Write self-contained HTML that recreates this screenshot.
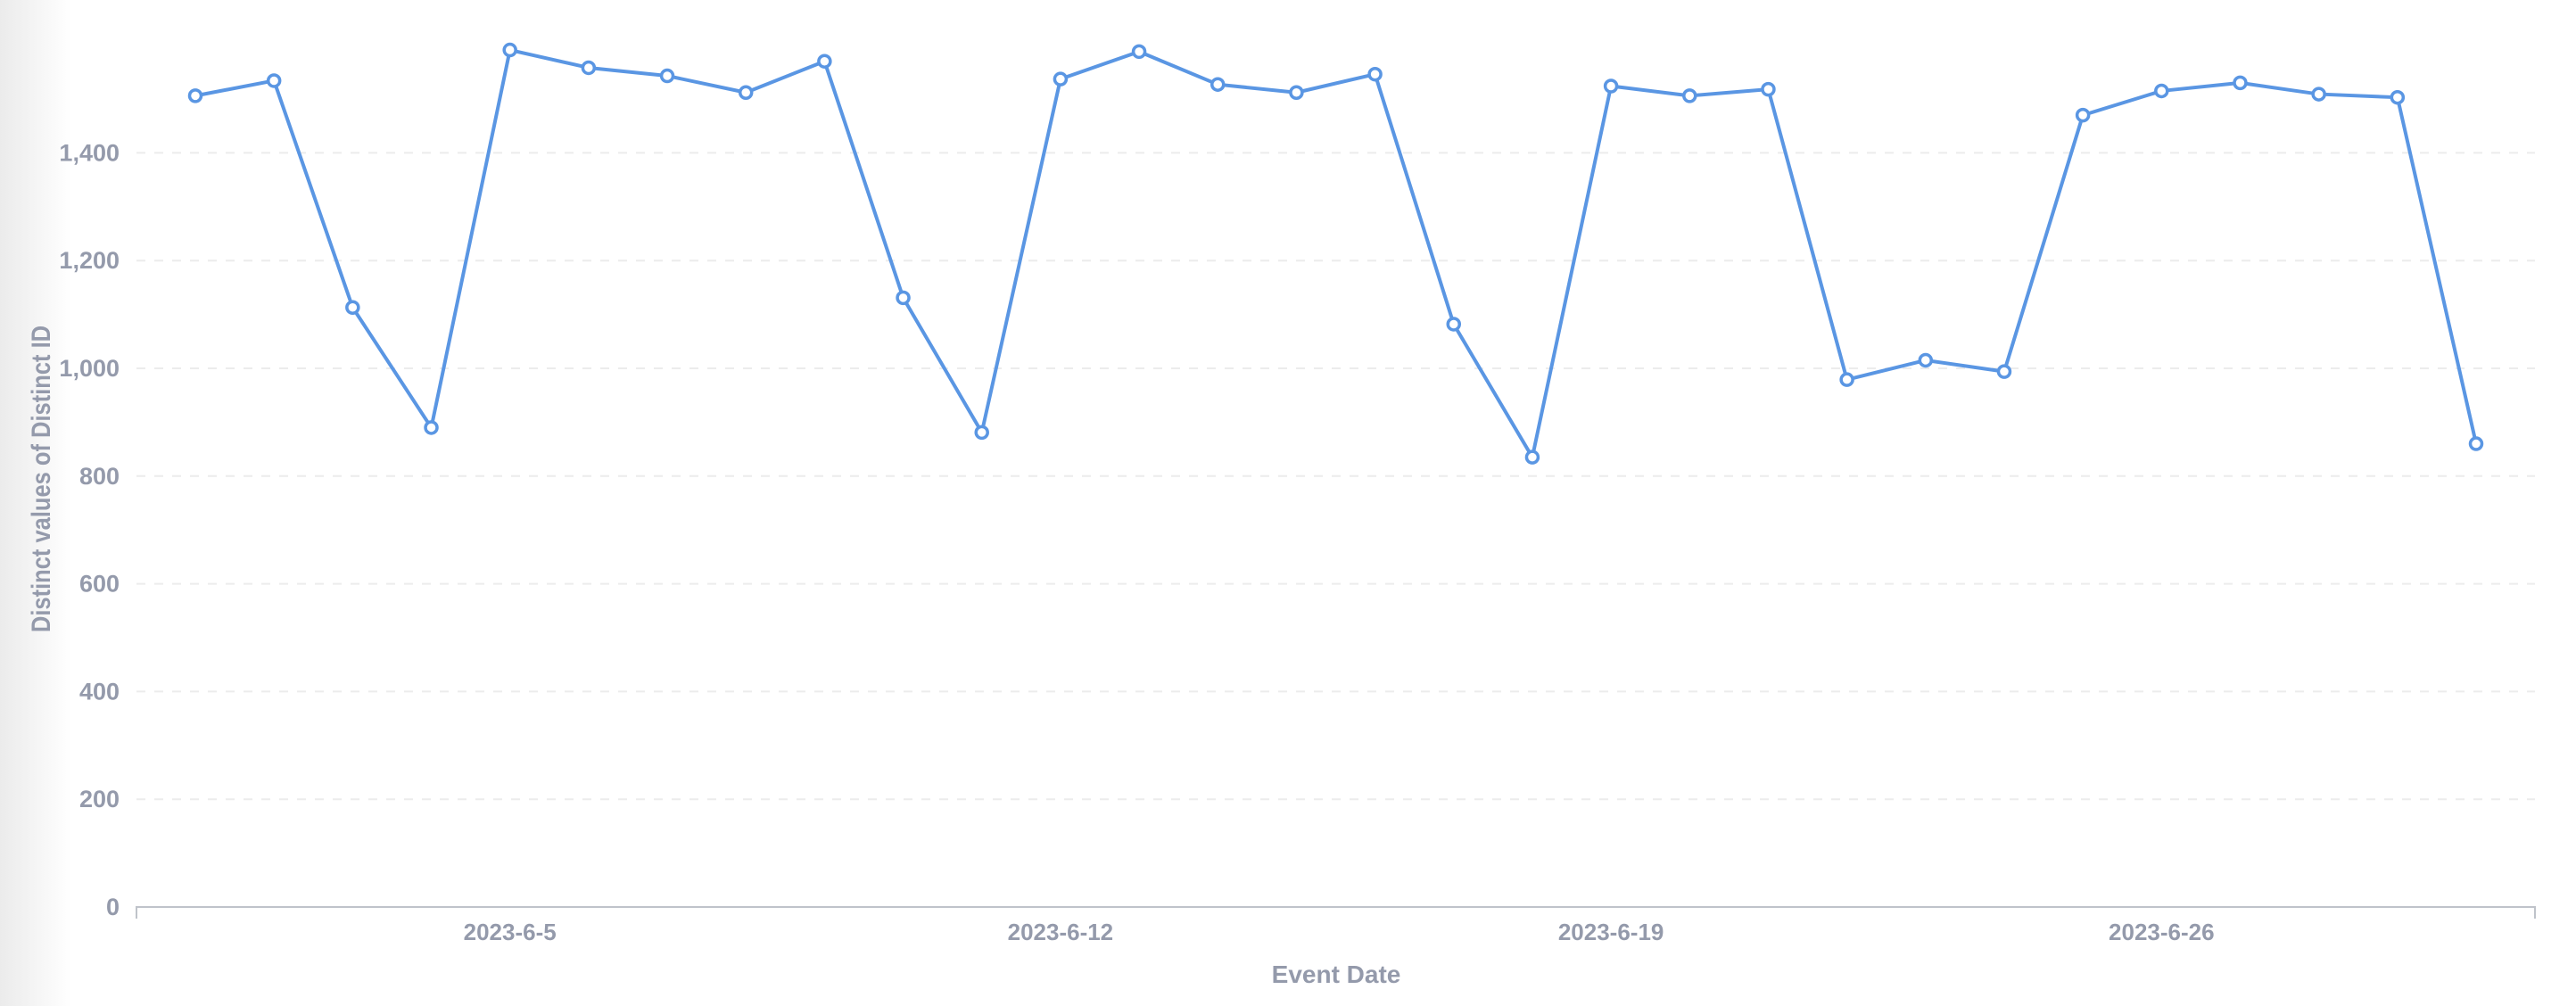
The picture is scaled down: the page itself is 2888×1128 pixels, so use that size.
<!DOCTYPE html>
<html><head><meta charset="utf-8"><style>
html,body{margin:0;padding:0;background:#fff;width:2888px;height:1128px;overflow:hidden}
svg{display:block}
text{font-family:"Liberation Sans",sans-serif;font-weight:bold;fill:#949aab}
</style></head><body>
<svg id="chart" width="2888" height="1128">
<defs><linearGradient id="sh" x1="0" x2="1"><stop offset="0" stop-color="#ebebeb"/><stop offset="1" stop-color="#fff"/></linearGradient></defs>
<rect x="0" y="0" width="80" height="1128" fill="url(#sh)"/>
<g id="grid"></g><g id="axes"></g><g id="series"></g>
<text x="1498" y="1102" font-size="28" text-anchor="middle">Event Date</text>
<text transform="translate(56,537) rotate(-90) scale(0.85,1)" font-size="30" text-anchor="middle">Distinct values of Distinct ID</text>
</svg>
<script>
const days = Array.from({length:30},(_,i)=>'2023-6-'+(i+1));
const values = [1506,1534,1113,890,1591,1558,1543,1512,1570,1131,881,1537,1588,1527,1512,1546,1082,835,1524,1506,1518,979,1015,994,1470,1515,1530,1509,1503,860];
const yTicks = [0,200,400,600,800,1000,1200,1400];
const xTickLabels = ['2023-6-5','2023-6-12','2023-6-19','2023-6-26'];
const xTickIdx = [4,11,18,25];
const NS='http://www.w3.org/2000/svg';
const X0=219, X1=2776, Y0=1017, PX=120.8/200;
const xs=i=>X0+(X1-X0)*i/(days.length-1);
const ys=v=>Y0-v*PX;
function mk(t,a,p){const e=document.createElementNS(NS,t);for(const k in a)e.setAttribute(k,a[k]);p.appendChild(e);return e;}
const grid=document.getElementById('grid'),axes=document.getElementById('axes'),series=document.getElementById('series');
yTicks.forEach(v=>{
 if(v>0){const l=mk('line',{x1:153,x2:2842,y1:ys(v),y2:ys(v),stroke:'#ececec','stroke-width':2,'stroke-dasharray':'10 10'},grid);
 
 }
 const t=mk('text',{x:134,y:ys(v)+9,'font-size':27,'text-anchor':'end'},axes);t.textContent=v.toLocaleString('en-US');
 
 
});
const ax=mk('path',{d:'M153,1030 V1017 H2842 V1030',stroke:'#bfc3ca','stroke-width':2,fill:'none'},axes);


xTickLabels.forEach((s,k)=>{
 const t=mk('text',{x:xs(xTickIdx[k]),y:1054,'font-size':26,'text-anchor':'middle'},axes);t.textContent=s;
 
 
});
const pl=mk('polyline',{points:values.map((v,i)=>xs(i)+','+ys(v)).join(' '),fill:'none',stroke:'#5a96e3','stroke-width':4,'stroke-linejoin':'round'},series);


values.forEach((v,i)=>{
 const c=mk('circle',{cx:xs(i),cy:ys(v),r:6.5,fill:'#fff',stroke:'#5a96e3','stroke-width':3.5},series);
 
 
});
</script>
</body></html>
